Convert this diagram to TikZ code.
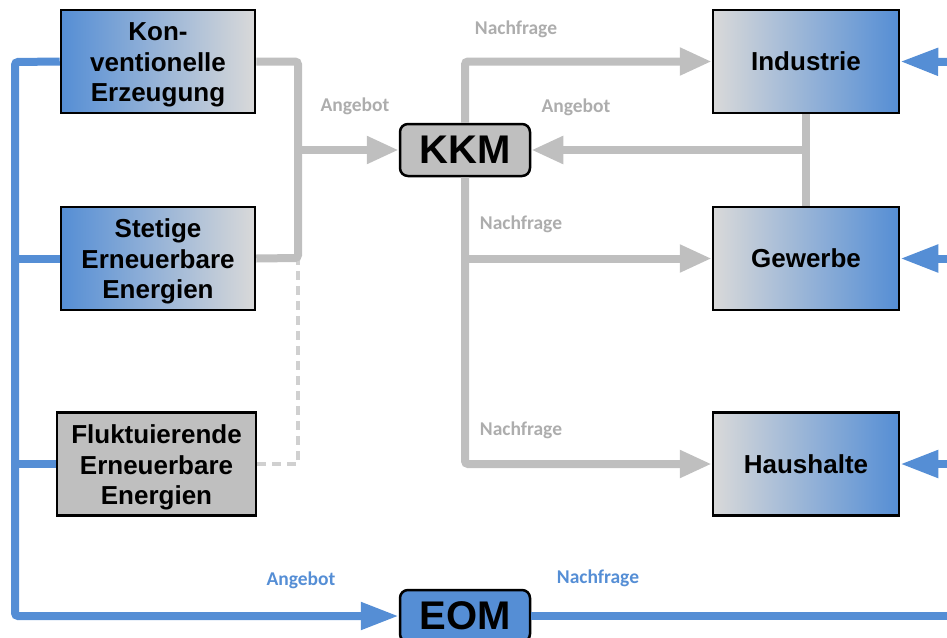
\documentclass[tikz,border=0pt]{standalone}
\usepackage{fontspec}
\setmainfont{Liberation Sans}
\newfontfamily\lblfont{Carlito}
\usetikzlibrary{arrows.meta}
\definecolor{bblue}{HTML}{558ED5}
\definecolor{lgray}{HTML}{D9D9D9}
\definecolor{mgray}{HTML}{BFBFBF}
\definecolor{tgray}{HTML}{ADADAD}
\newcommand\toppad{\rule{0pt}{25.5pt}}
\tikzset{
  box/.style={draw=black, line width=2.5pt, minimum width=194pt, minimum height=103pt, align=center, inner sep=0pt,
    font=\fontsize{26}{30.5}\selectfont\bfseries},
  lbox/.style={box, left color=bblue, right color=lgray},
  rbox/.style={box, left color=lgray, right color=bblue},
  mbox/.style={draw=black, line width=2.5pt, rounded corners=8pt, minimum width=130pt, minimum height=52pt, inner sep=0pt,
    font=\fontsize{40}{44}\selectfont\bfseries},
  gline/.style={draw=mgray, line width=8pt},
  garrow/.style={gline, -{Triangle[length=32pt,width=26pt]}},
  bline/.style={draw=bblue, line width=8pt},
  barrow/.style={bline, -{Triangle[length=38pt,width=26pt]}},
  glbl/.style={text=tgray, font=\lblfont\fontsize{19.5}{22}\selectfont\bfseries},
  blbl/.style={text=bblue, font=\lblfont\fontsize{19.5}{22}\selectfont\bfseries},
}
\begin{document}
\begin{tikzpicture}[x=1pt,y=-1pt]
\useasboundingbox (0,0) rectangle (947,637);
\clip (0,0) rectangle (947,637);
% nodes
\node[lbox] (konv) at (158,61.5) {\toppad Kon-\\ventionelle\\Erzeugung};
\node[lbox] (stet) at (158,258.5) {\toppad Stetige\\Erneuerbare\\Energien};
\node[box, fill=mgray, minimum width=199pt] (fluk) at (156.5,464) {\toppad Fluktuierende\\Erneuerbare\\Energien};
\node[rbox, minimum width=186pt] (ind) at (806,61.5) {Industrie};
\node[rbox, minimum width=186pt] (gew) at (806,258.5) {Gewerbe};
\node[rbox, minimum width=186pt] (haus) at (806,464) {Haushalte};
\node[mbox, fill=mgray] (kkm) at (465,150) {KKM};
\node[mbox, fill=bblue] (eom) at (465,616) {EOM};
% coordinates
\coordinate (jl) at (298,150);
\coordinate (jd) at (298,258);
\coordinate (bc) at (15,62);
\coordinate (bb) at (15,616);
\coordinate (r1) at (960,62);
\coordinate (r2) at (960,258.5);
\coordinate (r3) at (960,464);
\coordinate (re) at (960,616);
% gray connectors
\draw[gline, dash pattern=on 9pt off 6pt, line width=4pt, draw=lgray!90!gray] (fluk.east) -| (jd);
\draw[gline, rounded corners=3pt] (konv.east) -| (jd) -- (stet.east);
\draw[garrow] (jl) -- (kkm.west);
\draw[garrow, rounded corners=3pt] (kkm.north) |- (ind.west);
\draw[garrow, rounded corners=3pt] (kkm.south) |- (haus.west);
\draw[garrow] (kkm.south |- gew.west) -- (gew.west);
\draw[gline] (ind.south) -- (gew.north);
\draw[garrow] (ind.south |- kkm.east) -- (kkm.east);
% blue connectors
\draw[barrow, rounded corners=3pt] (konv.west) -- (bc) -- (bb) -- (eom.west);
\draw[bline] (stet.west) -- (stet.west -| bc);
\draw[bline] (fluk.west) -- (fluk.west -| bc);
\draw[bline] (eom.east) -- (re);
\draw[barrow] (r1) -- (ind.east);
\draw[barrow] (r2) -- (gew.east);
\draw[barrow] (r3) -- (haus.east);
% labels
\node[glbl] (l1) at (516,29) {Nachfrage};
\node[glbl] (l2) at (355,106) {Angebot};
\node[glbl] (l3) at (576,107) {Angebot};
\node[glbl] (l4) at (521,224) {Nachfrage};
\node[glbl] (l5) at (521,430) {Nachfrage};
\node[blbl] (l6) at (301,580) {Angebot};
\node[blbl] (l7) at (598,578) {Nachfrage};
\end{tikzpicture}
\end{document}
